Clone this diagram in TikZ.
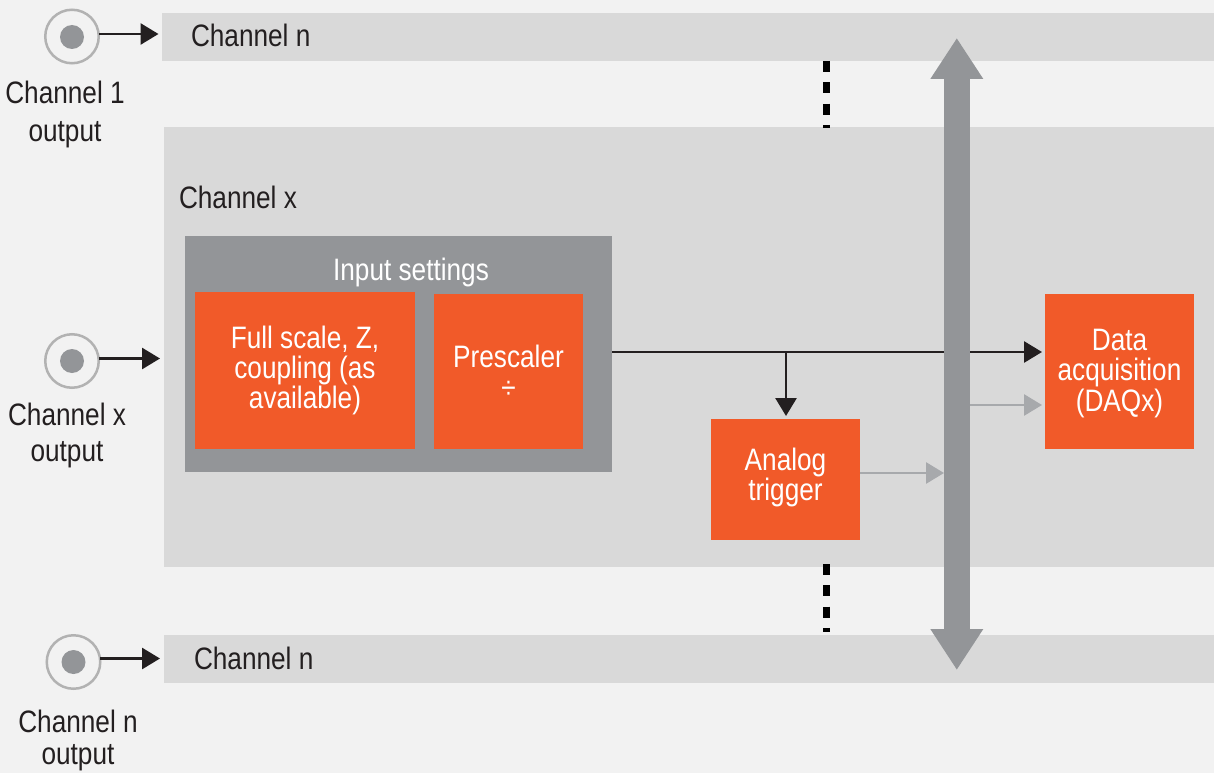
\documentclass[tikz,border=0pt]{standalone}
\usepackage{fontspec}
\setmainfont[FakeStretch=0.845]{Liberation Sans}
\usetikzlibrary{arrows.meta}
\definecolor{pagegray}{HTML}{F2F2F2}
\definecolor{bandgray}{HTML}{D9D9D9}
\definecolor{busgray}{HTML}{939598}
\definecolor{faintgray}{HTML}{A7A9AC}
\definecolor{inkblack}{HTML}{231F20}
\definecolor{blockorange}{HTML}{F15A29}
\begin{document}
\begin{tikzpicture}
[
    x=1pt, y=-1pt,
    every node/.style={inner sep=0pt, outer sep=0pt, font=\fontsize{31}{30}\selectfont, align=center, text=inkblack},
    band/.style={fill=bandgray, minimum width=1050pt},
    block/.style={fill=blockorange, text=white},
    jack/.style={circle, draw=black!30, line width=2.5pt, fill=pagegray, minimum size=53.5pt},
    jackdot/.style={circle, fill=busgray, minimum size=24pt},
    sig/.style={draw=inkblack, line width=2.8pt, -{Triangle[length=18pt,width=21pt]}},
    faintsig/.style={draw=faintgray, line width=2.8pt, -{Triangle[length=18pt,width=21pt]}},
    bus/.style={draw=busgray, line width=26.5pt, {Triangle[length=41pt,width=50pt]}-{Triangle[length=41pt,width=50pt]}},
    dots/.style={draw=black, line width=7pt, dash pattern=on 11pt off 10.3pt},
]
\fill[pagegray] (0,0) rectangle (1214,773);

% bands
\node[band, minimum width=1052pt, minimum height=48pt] (bandone) at (688,37) {};
\node[band, minimum height=440pt] (bandx) at (689,347) {};
\node[band, minimum height=48pt] (bandn) at (689,659) {};
\node[anchor=west] (bandonetext) at (191,35) {Channel n};
\node[anchor=west] (bandxtext) at (179,197) {Channel x};
\node[anchor=west] (bandntext) at (194,658) {Channel n};

% blocks
\node[fill=busgray, minimum width=427pt, minimum height=236pt] (inputbox) at (398.5,354) {};
\node[text=white] (inputtext) at (411,272) {Input settings};
\node[block, minimum width=220pt, minimum height=157pt] (fullscale) at (305,370.5) {Full scale, Z,\\coupling (as\\available)};
\node[block, minimum width=149pt, minimum height=155pt] (prescaler) at (508.5,371.5) {Prescaler\\[1pt]÷};
\node[block, minimum width=149pt, minimum height=121pt] (trigger) at (785.5,479.5) {};
\node[text=white] (triggertext) at (785.5,477.5) {Analog\\trigger};
\node[block, minimum width=149pt, minimum height=155pt] (daq) at (1119.5,371.5) {};
\node[text=white] (daqtext) at (1119.5,373.5) {Data\\acquisition\\[1pt](DAQx)};

% jacks
\node[jack] (jackone) at (72,36.5) {};
\node[jackdot] (dotone) at (72,37) {};
\node[jack] (jackx) at (72,361) {};
\node[jackdot] (dotx) at (72,361) {};
\node[jack] (jackn) at (73.5,662) {};
\node[jackdot] (dotn) at (73.5,662) {};
\node (jackonetext) at (65,114) {Channel 1\\[8pt]output};
\node (jackxtext) at (67,435) {Channel x\\[6pt]output};
\node (jackntext) at (78,740) {Channel n\\[2pt]output};

\coordinate (oneout) at (158.5,34);
\coordinate (xout) at (160,358.5);
\coordinate (nout) at (160,658.5);
\coordinate (tap) at (786,352);
\coordinate (bustop) at (956.8,38);
\coordinate (busbot) at (956.8,670);
\coordinate (busin) at (944,473);
\coordinate (busout) at (970,405);
\coordinate (gapa) at (826,61);
\coordinate (gapb) at (826,128);
\coordinate (gapc) at (826,564);
\coordinate (gapd) at (826,632);

% connectors
\draw[sig] (jackone.east |- oneout) -- (oneout);
\draw[sig] (jackx.east |- xout) -- (xout);
\draw[sig] (jackn.east |- nout) -- (nout);
\draw[sig, shorten >=3pt] (inputbox.east |- tap) -- (daq.west |- tap);
\draw[sig, shorten >=3pt] (tap) -- (trigger.north -| tap);
\draw[faintsig] (trigger.east |- busin) -- (busin);
\draw[bus] (bustop) -- (busbot);
\draw[faintsig, shorten >=3pt] (busout) -- (daq.west |- busout);
\draw[dots] (gapa) -- (gapb);
\draw[dots] (gapc) -- (gapd);
\end{tikzpicture}
\end{document}
